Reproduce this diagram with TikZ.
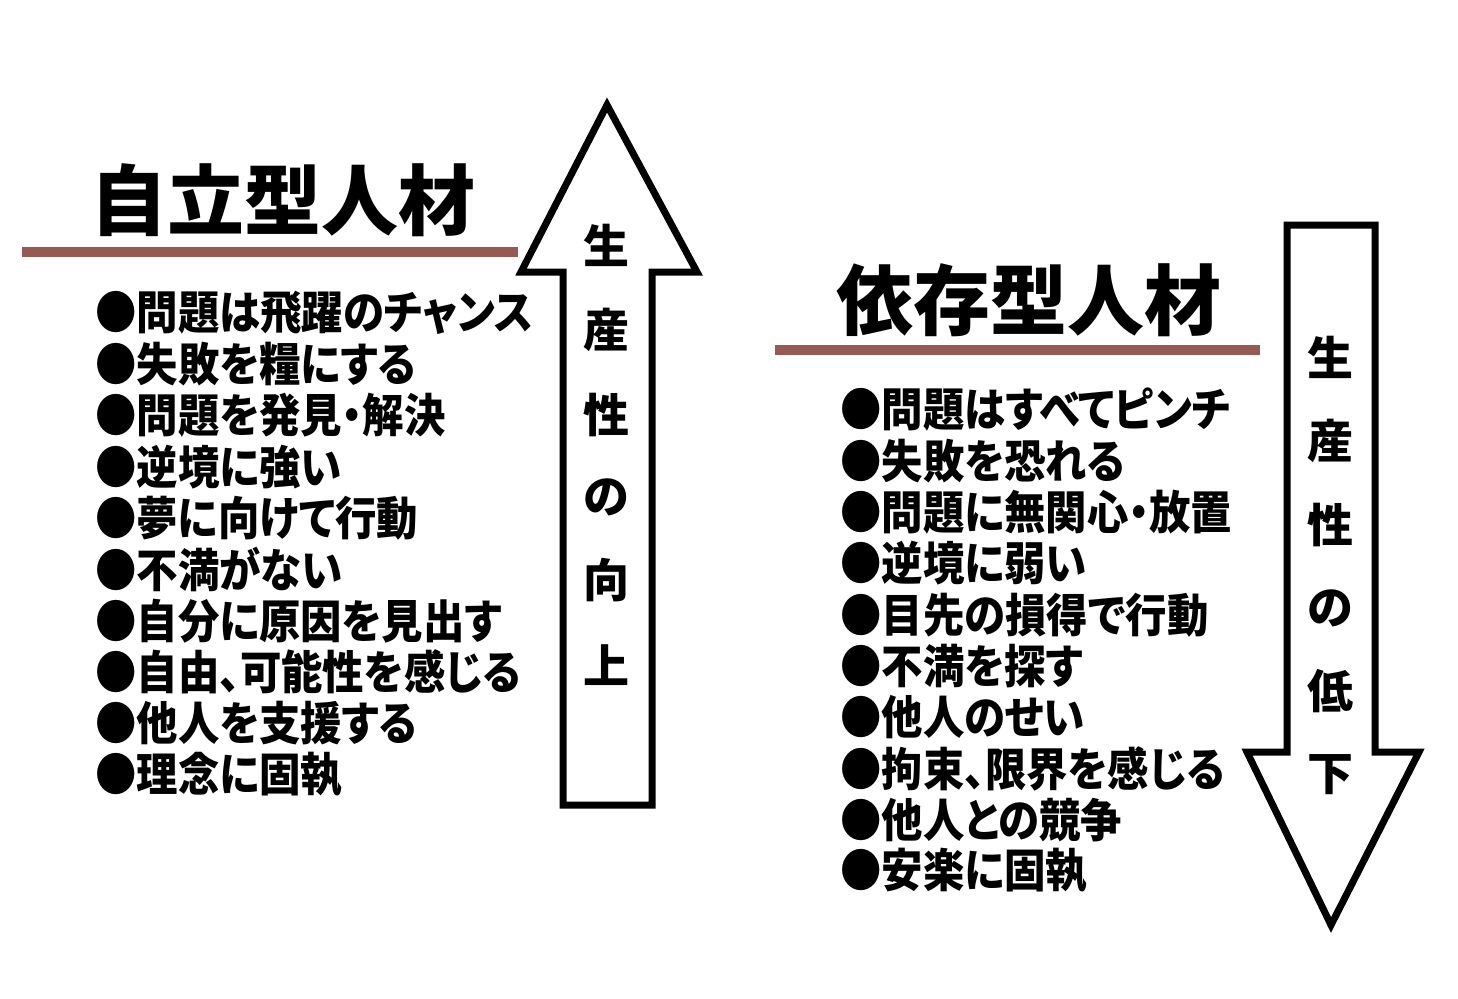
\documentclass[tikz,border=0pt]{standalone}
\usepackage{fontspec}
\newfontfamily\jpfont{Noto Sans CJK JP}
\newfontfamily\jpnarrow{Noto Sans CJK JP}[FakeStretch=0.9, RawFeature=+palt]
\usetikzlibrary{positioning}
\definecolor{rulebrown}{HTML}{965A55}

\begin{document}
\begin{tikzpicture}[x=1pt,y=-1pt,
  title/.style={font=\jpfont\bfseries\fontsize{77}{77}\selectfont, inner sep=0pt, anchor=west},
  item/.style={font=\jpnarrow\bfseries\fontsize{46}{46}\selectfont, inner sep=0pt, anchor=west},
  vlabel/.style={font=\jpfont\bfseries\fontsize{46}{46}\selectfont, inner sep=0pt},
  arrowbox/.style={draw=black, line width=7pt, fill=white, line join=miter},
  titlerule/.style={draw=rulebrown, line width=10pt}]
  \useasboundingbox (0,0) rectangle (1458,998);

  % up arrow and down arrow
  \draw[arrowbox] (607,105) -- (697,272) -- (652,272) -- (652,805)
    -- (563,805) -- (563,272) -- (521,272) -- cycle;
  \draw[arrowbox] (1287,225) -- (1375,225) -- (1375,752) -- (1419,752)
    -- (1331,925) -- (1247,752) -- (1287,752) -- cycle;

  % titles
  \node[title] (self) at (90,200) {自立型人材};
  \node[title] (dep) at (836,300) {依存型人材};
  \coordinate (selfL) at (22,252);
  \coordinate (selfR) at (518,252);
  \coordinate (depL) at (775,350);
  \coordinate (depR) at (1260,350);
  \draw[titlerule] (selfL) -- (selfR);
  \draw[titlerule] (depL) -- (depR);

  % left list
  \foreach \t [count=\i] in {●問題は飛躍のチャンス, ●失敗を糧にする,
      ●問題を発見・解決, ●逆境に強い, ●夢に向けて行動, ●不満がない,
      ●自分に原因を見出す, ●自由、可能性を感じる, ●他人を支援する,
      ●理念に固執}
    \node[item] (s\i) at (95, 313+51.3*\i-51.3) {\t};

  % right list
  \foreach \t [count=\i] in {●問題はすべてピンチ, ●失敗を恐れる,
      ●問題に無関心・放置, ●逆境に弱い, ●目先の損得で行動, ●不満を探す,
      ●他人のせい, ●拘束、限界を感じる, ●他人との競争, ●安楽に固執}
    \node[item] (d\i) at (840, 410+51.2*\i-51.2) {\t};

  % arrow labels
  \foreach \c/\y [count=\i] in {生/245, 産/330, 性/415, の/497, 向/580, 上/665}
    \node[vlabel] (up\i) at (606,\y) {\c};
  \foreach \c/\y [count=\i] in {生/357, 産/441, 性/525, の/608, 低/691, 下/775}
    \node[vlabel] (down\i) at (1330,\y) {\c};
\end{tikzpicture}
\end{document}
